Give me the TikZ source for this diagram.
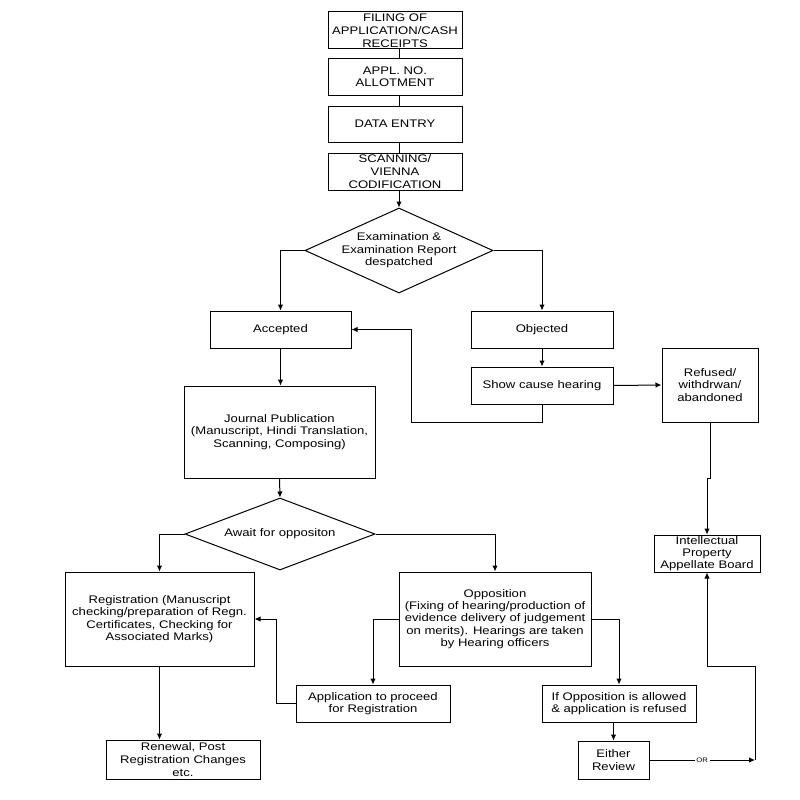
\documentclass[tikz,border=0pt]{standalone}
\usepackage{fontspec}
\setmainfont{Liberation Sans}[FakeStretch=1.19]
\usetikzlibrary{arrows.meta,shapes.geometric}
\newcommand{\rf}{\fontsize{11}{12.4}\selectfont}
\newcommand{\orf}{\fontsize{6.5}{7}\selectfont}
\tikzset{
  box/.style={draw, line width=1pt, inner sep=0pt, align=center, font=\rf},
  dia/.style={draw, diamond, line width=1pt, inner sep=0pt},
  diatext/.style={align=center, font=\rf, inner sep=0pt},
  arr/.style={line width=1pt, -{Latex[length=6pt,width=5.5pt]}},
  ln/.style={line width=1pt},
  orlabel/.style={fill=white, inner sep=1.5pt, font=\orf}
}
\begin{document}
\begin{tikzpicture}[x=1pt,y=-1pt]
\useasboundingbox[fill=white] (0,0) rectangle (800,800);
% top column
\node[box, minimum width=134, minimum height=37, font=\fontsize{11}{13}\selectfont] (filing) at (395,30.5) {FILING OF\\APPLICATION/CASH\\RECEIPTS};
\node[box, minimum width=134, minimum height=36] (appl) at (395,77) {APPL. NO.\\ALLOTMENT};
\node[box, minimum width=134, minimum height=36] (data) at (395,124) {DATA ENTRY};
\node[box, minimum width=134, minimum height=37, font=\fontsize{11}{12.8}\selectfont] (scan) at (395,171.5) {SCANNING/\\VIENNA\\CODIFICATION};
\node[dia, minimum width=188, minimum height=85,
  label={[diatext]center:Examination \&\\Examination Report\\despatched}] (dia1) at (399,250.5) {};
% second level
\node[box, minimum width=141, minimum height=37] (accepted) at (280.5,329.5) {Accepted};
\node[box, minimum width=142, minimum height=37] (objected) at (542,329.5) {Objected};
\node[box, minimum width=142, minimum height=37] (showcause) at (542,385.5) {Show cause hearing};
\node[box, minimum width=96, minimum height=74] (refused) at (710,385) {Refused/\\withdrwan/\\abandoned};
\node[box, minimum width=191, minimum height=92] (journal) at (279.5,432) {Journal Publication\\(Manuscript, Hindi Translation,\\Scanning, Composing)};
\node[dia, minimum width=190, minimum height=72,
  label={[diatext]center:Await for oppositon}] (dia2) at (280,534) {};
\node[box, minimum width=106, minimum height=37, font=\fontsize{11}{12}\selectfont] (ipab) at (707,553.5) {Intellectual\\Property\\Appellate Board};
% lower level
\node[box, minimum width=189, minimum height=94] (registration) at (159.5,619) {Registration (Manuscript\\checking/preparation of Regn.\\Certificates, Checking for\\Associated Marks)};
\node[box, minimum width=192, minimum height=94] (opposition) at (495,619) {Opposition\\(Fixing of hearing/production of\\evidence delivery of judgement\\on merits). Hearings are taken\\by Hearing officers};
\node[box, minimum width=154, minimum height=37] (application) at (373,703.5) {Application to proceed\\for Registration};
\node[box, minimum width=154, minimum height=37] (ifopp) at (619,703.5) {If Opposition is allowed\\\& application is refused};
\node[box, minimum width=154, minimum height=39, font=\fontsize{11}{13}\selectfont] (renewal) at (183,759.5) {Renewal, Post\\Registration Changes\\etc.};
\node[box, minimum width=71, minimum height=38] (either) at (613.5,760) {Either\\Review};
\coordinate (loop) at (411,422);
\coordinate (orend) at (755,760);
\coordinate (orjog) at (755,666);
% connectors
\draw[ln] (filing.south -| dia1.north) -- (appl.north -| dia1.north);
\draw[ln] (appl.south -| dia1.north) -- (data.north -| dia1.north);
\draw[ln] (data.south -| dia1.north) -- (scan.north -| dia1.north);
\draw[arr] (scan.south -| dia1.north) -- (dia1.north);
\draw[arr] (dia1.west) -| (accepted.north);
\draw[arr] (dia1.east) -| (objected.north);
\draw[arr] (objected.south) -- (showcause.north);
\draw[arr] (showcause.south) |- (loop) |- (accepted.east);
\draw[arr] (showcause.east) -- (refused.west);
\draw[arr] (refused.south) -- ++(0,56) -| (ipab.north);
\draw[arr] (accepted.south) -- (journal.north -| accepted.south);
\draw[arr] (journal.south) -- (dia2.north);
\draw[arr] (dia2.west) -| (registration.north);
\draw[arr] (dia2.east) -| (opposition.north);
\draw[arr] (registration.south) -- (registration.south |- renewal.north);
\draw[arr] (opposition.east) -| (ifopp.north);
\draw[arr] (opposition.west) -| (application.north);
\draw[arr] (application.west) -- ++(-19,0) |- (registration.east);
\draw[arr] (ifopp.south -| either.north) -- (either.north);
\draw[arr] (either.east) -- node[orlabel]{OR} (orend);
\draw[arr] (orend) -- (orjog) -| (ipab.south);
\end{tikzpicture}
\end{document}
